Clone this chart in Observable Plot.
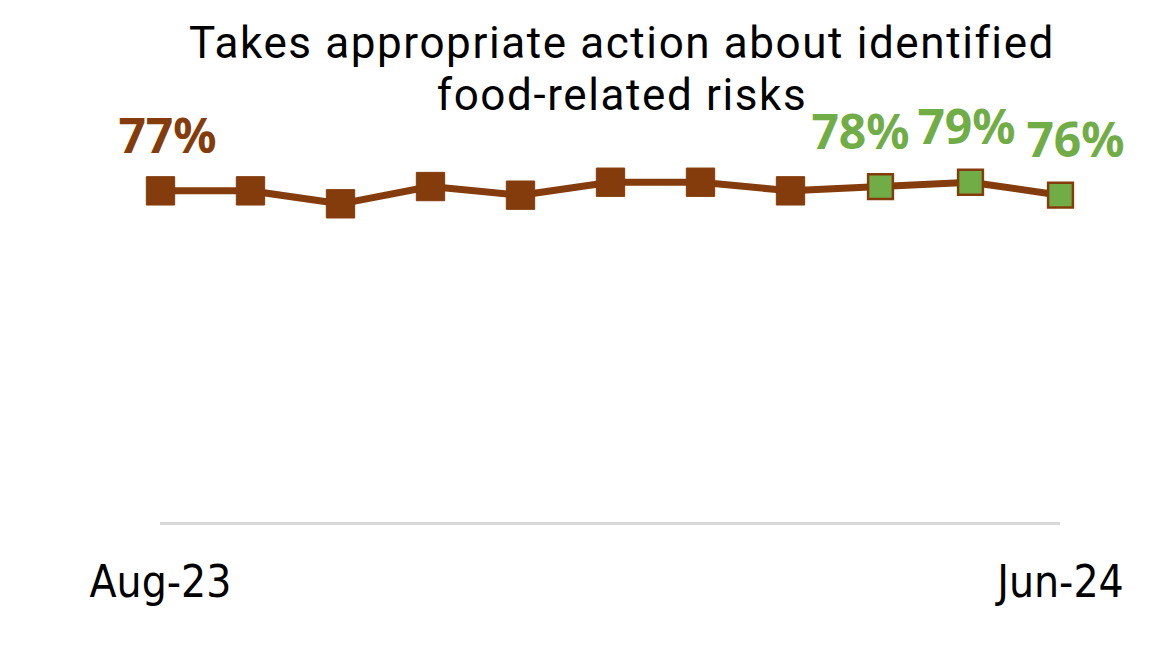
<!DOCTYPE html>
<html>
<head>
<meta charset="utf-8">
<script src="https://cdn.jsdelivr.net/npm/d3@7"></script>
<script src="https://cdn.jsdelivr.net/npm/@observablehq/plot@0.6"></script>
<style>
  html, body { margin: 0; padding: 0; background: #fff; overflow: hidden; }
  #wrap { position: relative; width: 1167px; height: 660px; }
  .title {
    position: absolute; left: 122px; width: 1000px; height: 52px;
    text-align: center; font-family: Roboto, sans-serif; font-size: 44px;
    letter-spacing: 1.6px;
    line-height: 52px; color: #000; white-space: nowrap;
  }
  #chart { position: absolute; left: 0; top: 0; }
</style>
</head>
<body>
<div id="wrap">
  <div id="chart"></div>
  <div class="title" style="top: 17px;">Takes appropriate action about identified</div>
  <div class="title" style="top: 69px;">food-related risks</div>
</div>
<script>
const months = ["Aug-23","Sep-23","Oct-23","Nov-23","Dec-23","Jan-24","Feb-24","Mar-24","Apr-24","May-24","Jun-24"];
const values = [77, 77, 74, 78, 76, 79, 79, 77, 78, 79, 76];
const highlighted = ["Apr-24","May-24","Jun-24"];
const labelled = ["Aug-23","Apr-24","May-24","Jun-24"];
const tickLabels = ["Aug-23","Jun-24"];

const data = months.map((m, i) => ({month: m, value: values[i], hi: highlighted.includes(m)}));
const brown = "#843C0C";
const green = "#70AD47";

// per-label horizontal nudges (styling, mimics the original label placement)
const nudge = {"Aug-23": 7, "Apr-24": -20, "May-24": -4, "Jun-24": 15};

const labelMarks = labelled.map(m => Plot.text(data.filter(d => d.month === m), {
  x: "month", y: "value",
  text: d => d.value + "%",
  dx: nudge[m], dy: -38,
  lineAnchor: "bottom",
  fill: d => d.hi ? green : brown,
  fontSize: 48, fontWeight: "bold",
  fontFamily: "'Noto Sans', sans-serif"
}));

const chart = Plot.plot({
  width: 1167, height: 660,
  marginTop: 91, marginBottom: 137, marginLeft: 160, marginRight: 107,
  x: {type: "point", domain: months, padding: 0, axis: null},
  y: {domain: [0, 100], axis: null},
  marks: [
    Plot.ruleY([0], {x1: () => months[0], x2: () => months[months.length - 1], stroke: "#D9D9D9", strokeWidth: 3}),
    Plot.line(data, {x: "month", y: "value", stroke: brown, strokeWidth: 7, strokeLinejoin: "round"}),
    Plot.dot(data.filter(d => !d.hi), {x: "month", y: "value", symbol: "square", r: 16, fill: brown, stroke: brown, strokeWidth: 1, strokeLinejoin: "round"}),
    Plot.dot(data.filter(d => d.hi), {x: "month", y: "value", symbol: "square", r: 14, fill: green, stroke: brown, strokeWidth: 2.5}),
    ...labelMarks,
    Plot.text(tickLabels, {
      x: d => d, frameAnchor: "bottom", dy: 73,
      text: d => d, fill: "#000", fontSize: 44,
      fontFamily: "'DejaVu Sans Condensed', 'DejaVu Sans', sans-serif",
      fontStretch: "condensed"
    })
  ]
});
document.getElementById("chart").appendChild(chart);
</script>
</body>
</html>
